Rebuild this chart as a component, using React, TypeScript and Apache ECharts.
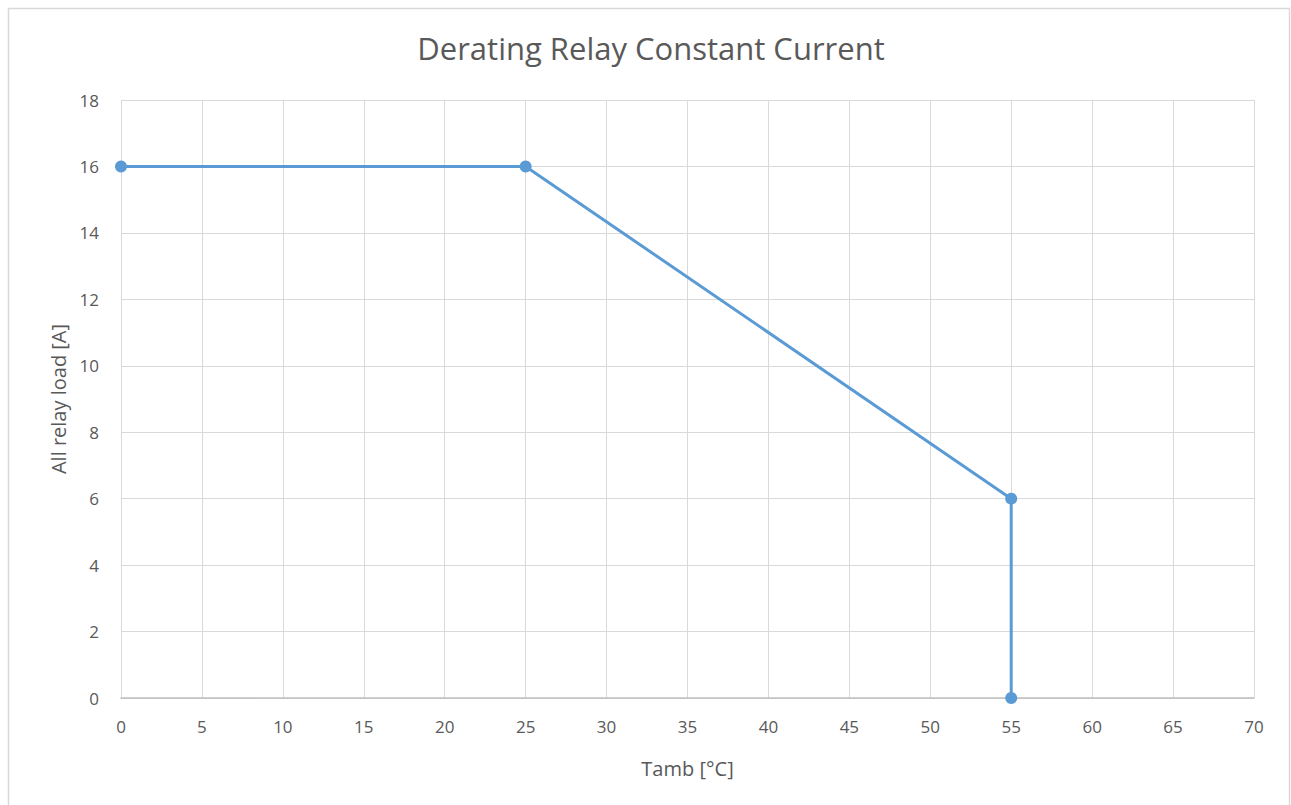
import React, { useEffect, useRef } from "react";
import * as echarts from "echarts";

const tambC = [0, 25, 55, 55];
const relayLoadA = [16, 16, 6, 0];
const xTicks = [0, 5, 10, 15, 20, 25, 30, 35, 40, 45, 50, 55, 60, 65, 70];
const yTicks = [0, 2, 4, 6, 8, 10, 12, 14, 16, 18];
const titleText = "Derating Relay Constant Current";
const xName = "Tamb [°C]";
const yName = "All relay load [A]";

export default function App() {
  const ref = useRef<HTMLDivElement>(null);
  useEffect(() => {
    if (!ref.current) return;
    const chart = echarts.init(ref.current, null, { renderer: "svg" });
    const font = "'Open Sans', 'Noto Sans', sans-serif";
    const textColor = "#595959";
    chart.setOption({
      animation: false,
      backgroundColor: "#ffffff",
      title: {
        text: titleText,
        left: 646,
        textAlign: "center",
        top: 27,
        textStyle: { fontFamily: font, fontSize: 31, fontWeight: "normal", color: textColor },
      },
      graphic: [
        {
          type: "rect",
          shape: { x: 8.5, y: 8.5, width: 1281, height: 820 },
          style: { fill: "none", stroke: "#d9d9d9", lineWidth: 1.5 },
          silent: true,
        },
      ],
      grid: { left: 121, right: 37, top: 100, bottom: 107 },
      xAxis: {
        type: "value",
        min: xTicks[0],
        max: xTicks[xTicks.length - 1],
        interval: xTicks[1] - xTicks[0],
        name: xName,
        nameLocation: "middle",
        nameGap: 60,
        nameTextStyle: { fontFamily: font, fontSize: 20, color: textColor },
        axisLine: { show: true, lineStyle: { color: "#bfbfbf", width: 1.5 } },
        axisTick: { show: false },
        axisLabel: { fontFamily: font, fontSize: 17, color: textColor, margin: 20 },
        splitLine: { show: true, lineStyle: { color: "#d9d9d9", width: 1 } },
      },
      yAxis: {
        type: "value",
        min: yTicks[0],
        max: yTicks[yTicks.length - 1],
        interval: yTicks[1] - yTicks[0],
        name: yName,
        nameLocation: "middle",
        nameGap: 52,
        nameRotate: 90,
        nameTextStyle: { fontFamily: font, fontSize: 20, color: textColor },
        axisLine: { show: false },
        axisTick: { show: false },
        axisLabel: { fontFamily: font, fontSize: 17, color: textColor, margin: 22 },
        splitLine: { show: true, lineStyle: { color: "#d9d9d9", width: 1 } },
      },
      series: [
        {
          type: "line",
          data: tambC.map((x, i) => [x, relayLoadA[i]]),
          symbol: "circle",
          symbolSize: 12,
          lineStyle: { color: "#5b9bd5", width: 3 },
          itemStyle: { color: "#5b9bd5" },
        },
      ],
    });
    return () => chart.dispose();
  }, []);
  return (
    <div
      ref={ref}
      style={{ position: "fixed", left: 0, top: 0, width: 1291, height: 805 }}
    />
  );
}
